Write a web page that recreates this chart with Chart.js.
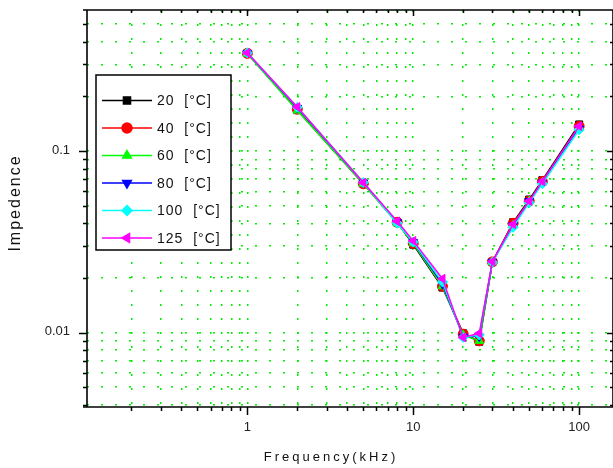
<!DOCTYPE html>
<html>
<head>
<meta charset="utf-8">
<script src="https://cdn.jsdelivr.net/npm/chart.js@4/dist/chart.umd.min.js"></script>
<style>
  html, body { margin: 0; padding: 0; background: #fff; }
  #wrap { width: 613px; height: 468px; }
</style>
</head>
<body>
<div id="wrap"><canvas id="impChart" width="613" height="468"></canvas></div>
<script>
// frequency in kHz
const freq = [1, 2, 5, 8, 10, 15, 20, 25, 30, 40, 50, 60, 100];

// temperature of each series
const temps = ['20', '40', '60', '80', '100', '125'];

// impedance readings per temperature
const imp20  = [0.345, 0.168, 0.066, 0.0405, 0.0305, 0.0177, 0.0099, 0.0089, 0.0245, 0.0405, 0.054, 0.069, 0.140];
const imp40  = [0.345, 0.170, 0.066, 0.0405, 0.0310, 0.0180, 0.0098, 0.0090, 0.0245, 0.0400, 0.053, 0.068, 0.137];
const imp60  = [0.343, 0.167, 0.066, 0.0400, 0.0310, 0.0180, 0.0097, 0.0090, 0.0244, 0.0390, 0.053, 0.067, 0.134];
const imp80  = [0.347, 0.173, 0.067, 0.0405, 0.0315, 0.0185, 0.0095, 0.0095, 0.0245, 0.0390, 0.053, 0.067, 0.133];
const imp100 = [0.347, 0.174, 0.067, 0.0400, 0.0315, 0.0190, 0.0094, 0.0097, 0.0244, 0.0380, 0.052, 0.066, 0.131];
const imp125 = [0.347, 0.175, 0.067, 0.0410, 0.0320, 0.0198, 0.0094, 0.0099, 0.0246, 0.0395, 0.053, 0.068, 0.137];

const allSeries = [imp20, imp40, imp60, imp80, imp100, imp125];

const colors = ['#000000', '#ff0000', '#00ff00', '#0000ff', '#00ffff', '#ff00ff'];
const styles = ['rect', 'circle', 'triangle', 'triangle', 'rectRot', 'triangle'];
const rotations = [0, 0, 0, 180, 0, -90];

const FONT = '"Liberation Sans", Arial, sans-serif';

const isDecade = (v) => Math.abs(Math.log10(v) - Math.round(Math.log10(v))) < 1e-6;

// 1..9 x 10^k ticks inside the range
const logTicks = (min, max) => {
  let out = [];
  for (let k = Math.floor(Math.log10(min)); k <= Math.ceil(Math.log10(max)); k++) {
    for (let m = 1; m < 10; m++) {
      let v = m * Math.pow(10, k);
      if (v >= min && v <= max) out.push({ value: v });
    }
  }
  return out;
};

// frame, tick marks + labels, axis titles and legend
const framePlugin = {
  id: 'frame',
  afterDatasetsDraw(chart) {
    const ctx = chart.ctx;
    const a = chart.chartArea;
    const xs = chart.scales.x;
    const ys = chart.scales.y;

    ctx.save();
    ctx.strokeStyle = '#000';
    ctx.lineWidth = 1.6;
    ctx.beginPath();
    ctx.moveTo(a.left - 4, a.top); ctx.lineTo(a.right, a.top);
    ctx.moveTo(a.left - 4, a.bottom); ctx.lineTo(a.right, a.bottom);
    ctx.moveTo(a.left, a.top); ctx.lineTo(a.left, a.bottom);
    ctx.moveTo(a.right, a.top); ctx.lineTo(a.right, a.bottom);
    ctx.stroke();

    ctx.lineWidth = 1.5;
    ctx.beginPath();
    xs.ticks.forEach((t) => {
      let px = Math.round(xs.getPixelForValue(t.value)) + 0.5;
      let big = isDecade(t.value);
      ctx.moveTo(px, a.bottom); ctx.lineTo(px, a.bottom + (big ? 8 : 4));
      ctx.moveTo(px, a.top); ctx.lineTo(px, a.top + (big ? 6 : 3));
    });
    ys.ticks.forEach((t) => {
      let py = Math.round(ys.getPixelForValue(t.value)) + 0.5;
      let big = isDecade(t.value);
      ctx.moveTo(a.left, py); ctx.lineTo(a.left - (big ? 8 : 4), py);
      ctx.moveTo(a.right, py); ctx.lineTo(a.right - (big ? 6 : 3), py);
    });
    ctx.stroke();

    // decade labels
    ctx.fillStyle = '#222';
    ctx.font = '13px ' + FONT;
    ctx.textBaseline = 'middle';
    ctx.textAlign = 'center';
    xs.ticks.filter((t) => isDecade(t.value)).forEach((t) => {
      ctx.fillText(String(Math.round(t.value)), xs.getPixelForValue(t.value), a.bottom + 20);
    });
    ctx.textAlign = 'right';
    ys.ticks.filter((t) => isDecade(t.value)).forEach((t) => {
      ctx.fillText(String(Number(t.value.toPrecision(1))), a.left - 17, ys.getPixelForValue(t.value) - 1);
    });

    // axis titles
    ctx.fillStyle = '#111';
    ctx.textAlign = 'center';
    ctx.font = '13px ' + FONT;
    ctx.letterSpacing = '3px';
    ctx.fillText('Frequency(kHz)', 331, 457);

    ctx.save();
    ctx.translate(16, 203);
    ctx.rotate(-Math.PI / 2);
    ctx.font = '16px ' + FONT;
    ctx.letterSpacing = '2px';
    ctx.fillText('Impedence', 0, 0);
    ctx.restore();
    ctx.letterSpacing = '0px';

    // legend box
    ctx.fillStyle = '#fff';
    ctx.fillRect(96, 75, 135, 175);
    ctx.strokeStyle = '#000';
    ctx.lineWidth = 1.5;
    ctx.strokeRect(96, 75, 135, 175);

    chart.data.datasets.forEach((ds, i) => {
      let y = 100.5 + i * 27.5;
      ctx.strokeStyle = ds.borderColor;
      ctx.lineWidth = 1.5;
      ctx.beginPath();
      ctx.moveTo(102, y); ctx.lineTo(152, y);
      ctx.stroke();
      ctx.fillStyle = ds.pointBackgroundColor;
      if (Chart.helpers && Chart.helpers.drawPoint) {
        Chart.helpers.drawPoint(ctx, {
          pointStyle: ds.pointStyle, rotation: ds.pointRotation,
          radius: ds.pointRadius, borderWidth: 1
        }, 127, y);
      }
      ctx.fillStyle = '#111';
      ctx.textAlign = 'left';
      ctx.font = '14px ' + FONT;
      ctx.letterSpacing = '1px';
      ctx.fillText(ds.label, 157, y + 1);
      ctx.letterSpacing = '0px';
    });
    ctx.restore();
  }
};

const drawChart = () => {
  let datasets = [];
  for (let i = 0; i < temps.length; i++) {
    datasets.push({
      label: `${temps[i]}  [°C]`,
      data: freq.map((f, j) => ({ x: f, y: allSeries[i][j] })),
      borderColor: colors[i],
      backgroundColor: colors[i],
      pointBackgroundColor: colors[i],
      pointBorderColor: colors[i],
      pointBorderWidth: 1,
      pointStyle: styles[i],
      pointRotation: rotations[i],
      pointRadius: 5,
      borderWidth: 1.5,
      tension: 0,
      order: temps.length - i
    });
  }

  const gridOpts = {
    color: '#00ee00',
    lineWidth: 1.5,
    drawTicks: false
  };

  new Chart(document.getElementById('impChart'), {
    type: 'line',
    data: { datasets: datasets },
    plugins: [framePlugin],
    options: {
      responsive: false,
      animation: false,
      events: [],
      layout: { autoPadding: false, padding: { top: 10, right: -2, left: 0, bottom: 0 } },
      plugins: { legend: { display: false }, tooltip: { enabled: false } },
      scales: {
        x: {
          type: 'logarithmic',
          min: 0.108,
          max: 160,
          offset: false,
          afterBuildTicks: (s) => { s.ticks = logTicks(0.108, 160); },
          afterFit: (s) => { s.height = 61; },
          grid: gridOpts,
          border: { display: false, dash: [2, 12] },
          ticks: { display: false, autoSkip: false }
        },
        y: {
          type: 'logarithmic',
          min: 0.00389,
          max: 0.598,
          afterBuildTicks: (s) => { s.ticks = logTicks(0.00389, 0.598); },
          afterFit: (s) => { s.width = 87; },
          grid: gridOpts,
          border: { display: false, dash: [2, 12] },
          ticks: { display: false, autoSkip: false }
        }
      }
    }
  });
};

drawChart();
</script>
</body>
</html>
